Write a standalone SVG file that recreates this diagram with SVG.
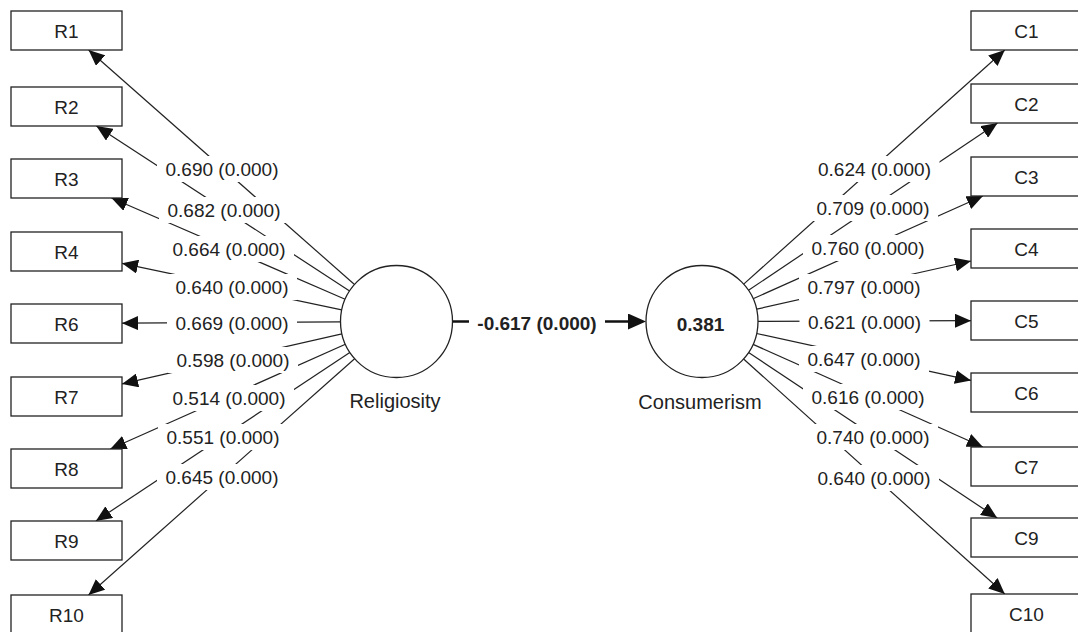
<svg xmlns="http://www.w3.org/2000/svg" width="1078" height="632" viewBox="0 0 1078 632">
<defs>
<style>
.box{fill:#fff;stroke:#222;stroke-width:1.3}
.lat{fill:#fff;stroke:#222;stroke-width:1.3}
.t{font-family:"Liberation Sans",Arial,sans-serif;font-size:19px;fill:#222;text-anchor:middle}
.tl{font-family:"Liberation Sans",Arial,sans-serif;font-size:20px;fill:#222;text-anchor:middle}
.b{font-weight:bold}
.edge{stroke:#222;stroke-width:1.2;fill:none;marker-end:url(#ah)}
.path{stroke:#111;stroke-width:2.6;fill:none;marker-end:url(#ahb)}
.lbg{fill:#fff}
</style>
<marker id="ah" markerUnits="userSpaceOnUse" markerWidth="16" markerHeight="14" viewBox="0 0 16 14" refX="16" refY="7" orient="auto">
<path d="M0,0 L16,7 L0,14 z" fill="#111"/>
</marker>
<marker id="ahb" markerUnits="userSpaceOnUse" markerWidth="18" markerHeight="16" viewBox="0 0 18 16" refX="14" refY="8" orient="auto">
<path d="M0,0 L18,8 L0,16 z" fill="#111"/>
</marker>
</defs>
<rect width="1078" height="632" fill="#fff"/>
<g id="connectors">
<line class="edge" x1="354.5" y1="284.5" x2="88.6" y2="50"/>
<line class="edge" x1="349.6" y1="290.9" x2="96.4" y2="126"/>
<line class="edge" x1="345.1" y1="299.2" x2="111.5" y2="198"/>
<line class="edge" x1="341.7" y1="309.9" x2="122" y2="263.3"/>
<line class="edge" x1="340.5" y1="321.8" x2="122" y2="323.2"/>
<line class="edge" x1="341.9" y1="333.9" x2="122" y2="383.9"/>
<line class="edge" x1="345.4" y1="344.3" x2="110.3" y2="449"/>
<line class="edge" x1="349.8" y1="352.5" x2="95.9" y2="521"/>
<line class="edge" x1="354.6" y1="358.7" x2="88.5" y2="595"/>
<line class="edge" x1="743.7" y1="284.1" x2="1004.8" y2="50"/>
<line class="edge" x1="748.5" y1="290.3" x2="997.5" y2="123"/>
<line class="edge" x1="753.1" y1="298.7" x2="982.9" y2="196"/>
<line class="edge" x1="756.6" y1="309.2" x2="971" y2="261"/>
<line class="edge" x1="758" y1="321.3" x2="971" y2="320.7"/>
<line class="edge" x1="756.7" y1="333.5" x2="971" y2="380.4"/>
<line class="edge" x1="753.1" y1="344.4" x2="982.9" y2="447"/>
<line class="edge" x1="748.6" y1="352.5" x2="997.2" y2="518"/>
<line class="edge" x1="743.6" y1="359" x2="1004.8" y2="594"/>
<line class="path" x1="452.5" y1="321.5" x2="642" y2="321.5"/>
<g id="edge-labels">
<rect class="lbg" x="157" y="156" width="130" height="26"/><text class="t" x="222" y="176">0.690 (0.000)</text>
<rect class="lbg" x="159" y="197" width="130" height="26"/><text class="t" x="224" y="217">0.682 (0.000)</text>
<rect class="lbg" x="164" y="236" width="130" height="26"/><text class="t" x="229" y="256">0.664 (0.000)</text>
<rect class="lbg" x="167" y="274" width="130" height="26"/><text class="t" x="232" y="294">0.640 (0.000)</text>
<rect class="lbg" x="167" y="310" width="130" height="26"/><text class="t" x="232" y="330">0.669 (0.000)</text>
<rect class="lbg" x="168" y="347" width="130" height="26"/><text class="t" x="233" y="367">0.598 (0.000)</text>
<rect class="lbg" x="164" y="385" width="130" height="26"/><text class="t" x="229" y="405">0.514 (0.000)</text>
<rect class="lbg" x="158" y="424" width="130" height="26"/><text class="t" x="223" y="444">0.551 (0.000)</text>
<rect class="lbg" x="157" y="464" width="130" height="26"/><text class="t" x="222" y="484">0.645 (0.000)</text>
<rect class="lbg" x="809.5" y="156" width="130" height="26"/><text class="t" x="874.5" y="176">0.624 (0.000)</text>
<rect class="lbg" x="808" y="195" width="130" height="26"/><text class="t" x="873" y="215">0.709 (0.000)</text>
<rect class="lbg" x="803" y="235" width="130" height="26"/><text class="t" x="868" y="255">0.760 (0.000)</text>
<rect class="lbg" x="799" y="274" width="130" height="26"/><text class="t" x="864" y="294">0.797 (0.000)</text>
<rect class="lbg" x="799.5" y="309" width="130" height="26"/><text class="t" x="864.5" y="329">0.621 (0.000)</text>
<rect class="lbg" x="799" y="346" width="130" height="26"/><text class="t" x="864" y="366">0.647 (0.000)</text>
<rect class="lbg" x="803" y="384" width="130" height="26"/><text class="t" x="868" y="404">0.616 (0.000)</text>
<rect class="lbg" x="808" y="424" width="130" height="26"/><text class="t" x="873" y="444">0.740 (0.000)</text>
<rect class="lbg" x="809" y="465" width="130" height="26"/><text class="t" x="874" y="485">0.640 (0.000)</text>
<rect class="lbg" x="469" y="309.5" width="136" height="26"/><text class="t b" x="537" y="330">-0.617 (0.000)</text>
</g>
</g>
<g id="Religiosity"><circle class="lat" cx="396.5" cy="321.5" r="56"/><text class="tl" x="395" y="408">Religiosity</text></g>
<g id="Consumerism"><circle class="lat" cx="702" cy="321.5" r="56"/><text class="t b" x="700.5" y="331">0.381</text><text class="tl" x="700" y="409">Consumerism</text></g>
<g id="R1"><rect class="box" x="11" y="11" width="111" height="39"/><text class="t" x="66.5" y="37.5">R1</text></g>
<g id="R2"><rect class="box" x="11" y="87" width="111" height="39"/><text class="t" x="66.5" y="113.5">R2</text></g>
<g id="R3"><rect class="box" x="11" y="159" width="111" height="39"/><text class="t" x="66.5" y="185.5">R3</text></g>
<g id="R4"><rect class="box" x="11" y="232" width="111" height="39"/><text class="t" x="66.5" y="258.5">R4</text></g>
<g id="R6"><rect class="box" x="11" y="304" width="111" height="39"/><text class="t" x="66.5" y="330.5">R6</text></g>
<g id="R7"><rect class="box" x="11" y="377" width="111" height="39"/><text class="t" x="66.5" y="403.5">R7</text></g>
<g id="R8"><rect class="box" x="11" y="449" width="111" height="39"/><text class="t" x="66.5" y="475.5">R8</text></g>
<g id="R9"><rect class="box" x="11" y="521" width="111" height="39"/><text class="t" x="66.5" y="547.5">R9</text></g>
<g id="R10"><rect class="box" x="11" y="595" width="111" height="39"/><text class="t" x="66.5" y="621.5">R10</text></g>
<g id="C1"><rect class="box" x="971" y="11" width="111" height="39"/><text class="t" x="1026.5" y="37.5">C1</text></g>
<g id="C2"><rect class="box" x="971" y="84" width="111" height="39"/><text class="t" x="1026.5" y="110.5">C2</text></g>
<g id="C3"><rect class="box" x="971" y="157" width="111" height="39"/><text class="t" x="1026.5" y="183.5">C3</text></g>
<g id="C4"><rect class="box" x="971" y="229" width="111" height="39"/><text class="t" x="1026.5" y="255.5">C4</text></g>
<g id="C5"><rect class="box" x="971" y="301" width="111" height="39"/><text class="t" x="1026.5" y="327.5">C5</text></g>
<g id="C6"><rect class="box" x="971" y="373" width="111" height="39"/><text class="t" x="1026.5" y="399.5">C6</text></g>
<g id="C7"><rect class="box" x="971" y="447" width="111" height="39"/><text class="t" x="1026.5" y="473.5">C7</text></g>
<g id="C9"><rect class="box" x="971" y="518" width="111" height="39"/><text class="t" x="1026.5" y="544.5">C9</text></g>
<g id="C10"><rect class="box" x="971" y="594" width="111" height="39"/><text class="t" x="1026.5" y="620.5">C10</text></g>
</svg>
